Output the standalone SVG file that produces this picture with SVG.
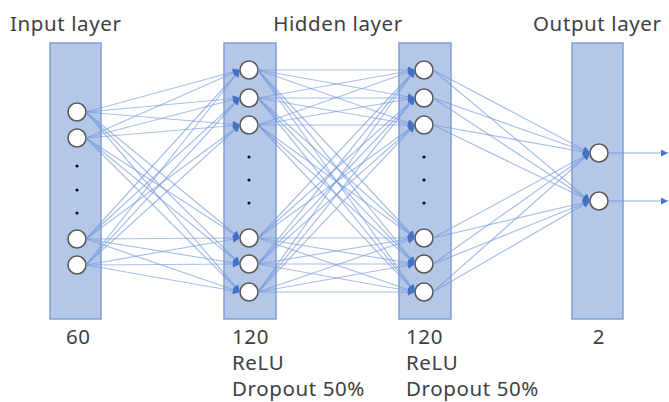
<svg xmlns="http://www.w3.org/2000/svg" width="669" height="402" viewBox="0 0 669 402">
<defs>
<marker id="ah" viewBox="0 0 10 10" refX="10" refY="5" markerWidth="8" markerHeight="7" orient="auto" markerUnits="userSpaceOnUse">
<path d="M0,0 L10,5 L0,10 z" fill="#4472c4"/>
</marker>
<style>
.layer{fill:#b4c7e7;stroke:#7f9fd6;stroke-width:1.5}
.node{fill:#ffffff;stroke:#595959;stroke-width:1.6}
.dot{fill:#111111}
.lbl{font-family:"Noto Sans","Open Sans",sans-serif;font-size:20.5px;letter-spacing:0.6px;fill:#404040}
.c line{stroke:#6f94d8;stroke-opacity:0.6;stroke-width:1.2;marker-end:url(#ah)}
.c line.o{stroke-opacity:0.8}
</style>
</defs>
<rect width="669" height="402" fill="#ffffff"/>
<g id="input-layer">
<rect class="layer" x="50" y="43" width="51" height="276"/>
<circle class="node" cx="77" cy="112" r="9"/>
<circle class="node" cx="77" cy="138" r="9"/>
<circle class="dot" cx="77" cy="166" r="1.6"/>
<circle class="dot" cx="77" cy="190" r="1.6"/>
<circle class="dot" cx="77" cy="213" r="1.6"/>
<circle class="node" cx="77" cy="239" r="9"/>
<circle class="node" cx="77" cy="265" r="9"/>
</g>
<g id="hidden-layer-1">
<rect class="layer" x="224" y="43" width="52" height="276"/>
<circle class="node" cx="249" cy="70" r="9"/>
<circle class="node" cx="249" cy="98" r="9"/>
<circle class="node" cx="249" cy="125" r="9"/>
<circle class="dot" cx="249" cy="157" r="1.6"/>
<circle class="dot" cx="249" cy="180" r="1.6"/>
<circle class="dot" cx="249" cy="203" r="1.6"/>
<circle class="node" cx="249" cy="238" r="9"/>
<circle class="node" cx="249" cy="264" r="9"/>
<circle class="node" cx="249" cy="292" r="9"/>
</g>
<g id="hidden-layer-2">
<rect class="layer" x="399" y="43" width="52" height="276"/>
<circle class="node" cx="424" cy="70" r="9"/>
<circle class="node" cx="424" cy="98" r="9"/>
<circle class="node" cx="424" cy="125" r="9"/>
<circle class="dot" cx="424" cy="157" r="1.6"/>
<circle class="dot" cx="424" cy="180" r="1.6"/>
<circle class="dot" cx="424" cy="203" r="1.6"/>
<circle class="node" cx="424" cy="238" r="9"/>
<circle class="node" cx="424" cy="264" r="9"/>
<circle class="node" cx="424" cy="292" r="9"/>
</g>
<g id="output-layer">
<rect class="layer" x="572" y="43" width="51" height="276"/>
<circle class="node" cx="599" cy="153" r="9"/>
<circle class="node" cx="599" cy="201" r="9"/>
</g>
<g id="connectors" class="c">
<line x1="86" y1="112" x2="240" y2="70"/><line x1="86" y1="112" x2="240" y2="98"/><line x1="86" y1="112" x2="240" y2="125"/><line x1="86" y1="112" x2="240" y2="238"/><line x1="86" y1="112" x2="240" y2="264"/><line x1="86" y1="112" x2="240" y2="292"/>
<line x1="86" y1="138" x2="240" y2="70"/><line x1="86" y1="138" x2="240" y2="98"/><line x1="86" y1="138" x2="240" y2="125"/><line x1="86" y1="138" x2="240" y2="238"/><line x1="86" y1="138" x2="240" y2="264"/><line x1="86" y1="138" x2="240" y2="292"/>
<line x1="86" y1="239" x2="240" y2="70"/><line x1="86" y1="239" x2="240" y2="98"/><line x1="86" y1="239" x2="240" y2="125"/><line x1="86" y1="239" x2="240" y2="238"/><line x1="86" y1="239" x2="240" y2="264"/><line x1="86" y1="239" x2="240" y2="292"/>
<line x1="86" y1="265" x2="240" y2="70"/><line x1="86" y1="265" x2="240" y2="98"/><line x1="86" y1="265" x2="240" y2="125"/><line x1="86" y1="265" x2="240" y2="238"/><line x1="86" y1="265" x2="240" y2="264"/><line x1="86" y1="265" x2="240" y2="292"/>
<line x1="258" y1="70" x2="415" y2="70"/><line x1="258" y1="70" x2="415" y2="98"/><line x1="258" y1="70" x2="415" y2="125"/><line x1="258" y1="70" x2="415" y2="238"/><line x1="258" y1="70" x2="415" y2="264"/><line x1="258" y1="70" x2="415" y2="292"/>
<line x1="258" y1="98" x2="415" y2="70"/><line x1="258" y1="98" x2="415" y2="98"/><line x1="258" y1="98" x2="415" y2="125"/><line x1="258" y1="98" x2="415" y2="238"/><line x1="258" y1="98" x2="415" y2="264"/><line x1="258" y1="98" x2="415" y2="292"/>
<line x1="258" y1="125" x2="415" y2="70"/><line x1="258" y1="125" x2="415" y2="98"/><line x1="258" y1="125" x2="415" y2="125"/><line x1="258" y1="125" x2="415" y2="238"/><line x1="258" y1="125" x2="415" y2="264"/><line x1="258" y1="125" x2="415" y2="292"/>
<line x1="258" y1="238" x2="415" y2="70"/><line x1="258" y1="238" x2="415" y2="98"/><line x1="258" y1="238" x2="415" y2="125"/><line x1="258" y1="238" x2="415" y2="238"/><line x1="258" y1="238" x2="415" y2="264"/><line x1="258" y1="238" x2="415" y2="292"/>
<line x1="258" y1="264" x2="415" y2="70"/><line x1="258" y1="264" x2="415" y2="98"/><line x1="258" y1="264" x2="415" y2="125"/><line x1="258" y1="264" x2="415" y2="238"/><line x1="258" y1="264" x2="415" y2="264"/><line x1="258" y1="264" x2="415" y2="292"/>
<line x1="258" y1="292" x2="415" y2="70"/><line x1="258" y1="292" x2="415" y2="98"/><line x1="258" y1="292" x2="415" y2="125"/><line x1="258" y1="292" x2="415" y2="238"/><line x1="258" y1="292" x2="415" y2="264"/><line x1="258" y1="292" x2="415" y2="292"/>
<line x1="433" y1="70" x2="590" y2="153"/><line x1="433" y1="70" x2="590" y2="201"/>
<line x1="433" y1="98" x2="590" y2="153"/><line x1="433" y1="98" x2="590" y2="201"/>
<line x1="433" y1="125" x2="590" y2="153"/><line x1="433" y1="125" x2="590" y2="201"/>
<line x1="433" y1="238" x2="590" y2="153"/><line x1="433" y1="238" x2="590" y2="201"/>
<line x1="433" y1="264" x2="590" y2="153"/><line x1="433" y1="264" x2="590" y2="201"/>
<line x1="433" y1="292" x2="590" y2="153"/><line x1="433" y1="292" x2="590" y2="201"/>
<line class="o" x1="608" y1="153" x2="668" y2="153"/>
<line class="o" x1="608" y1="201" x2="668" y2="201"/>
</g>
<g id="labels">
<text class="lbl" x="10" y="31">Input layer</text>
<text class="lbl" x="338" y="31" text-anchor="middle">Hidden layer</text>
<text class="lbl" x="533" y="31">Output layer</text>
<text class="lbl" x="66" y="344">60</text>
<text class="lbl" x="232" y="344">120</text>
<text class="lbl" x="232" y="370">ReLU</text>
<text class="lbl" x="232" y="396">Dropout 50%</text>
<text class="lbl" x="406" y="344">120</text>
<text class="lbl" x="406" y="370">ReLU</text>
<text class="lbl" x="406" y="396">Dropout 50%</text>
<text class="lbl" x="599" y="344" text-anchor="middle">2</text>
</g>
</svg>
